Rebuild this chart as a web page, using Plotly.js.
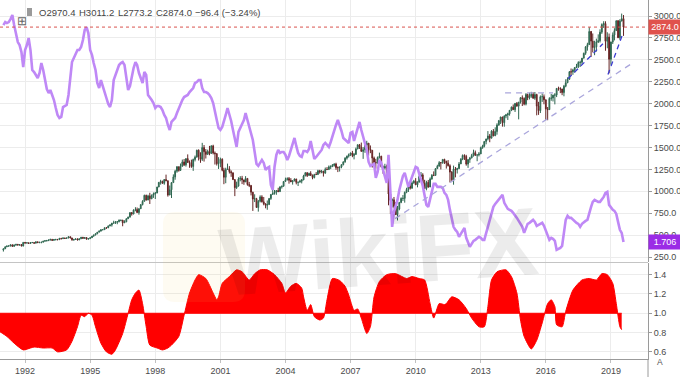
<!DOCTYPE html>
<html><head><meta charset="utf-8">
<script src="https://cdn.plot.ly/plotly-3.0.1.min.js"></script>
<style>html,body{margin:0;padding:0;background:#fff;}#chart{width:680px;height:377px;}</style>
</head><body><div id="chart"></div>
<script>
// ---- data: monthly S&P 500 candles, Jan 1991 .. Aug 2019 ----
const startYear = 1991;
const spxOpen = [
330,344,367,375,375,390,371,388,395,388,392,375,
417,409,413,404,415,415,408,424,414,418,419,431,
436,439,443,452,440,450,451,448,464,459,468,462,
467,482,467,446,451,457,444,458,476,463,472,454,
459,470,487,501,515,533,545,562,562,584,582,605,
616,636,640,646,654,669,671,640,652,687,705,757,
741,786,791,757,801,848,885,954,900,947,915,955,
970,980,1049,1102,1112,1091,1134,1121,957,1017,1099,1164,
1229,1280,1238,1286,1335,1302,1373,1329,1320,1283,1363,1389,
1469,1395,1366,1499,1452,1421,1455,1431,1518,1437,1429,1315,
1320,1366,1240,1160,1250,1256,1224,1211,1134,1041,1060,1140,
1148,1130,1107,1147,1077,1067,990,912,916,815,886,936,
880,856,841,848,917,964,975,990,1008,996,1051,1058,
1112,1131,1145,1126,1107,1121,1141,1102,1104,1115,1130,1174,
1212,1181,1204,1181,1157,1192,1191,1234,1220,1229,1207,1250,
1248,1280,1281,1295,1311,1270,1270,1277,1304,1336,1378,1401,
1418,1438,1407,1421,1482,1531,1503,1455,1474,1527,1549,1481,
1468,1379,1331,1323,1386,1400,1280,1267,1283,1166,969,896,
903,826,735,798,873,919,919,988,1021,1057,1036,1096,
1115,1074,1104,1169,1187,1089,1031,1102,1049,1141,1183,1181,
1258,1286,1327,1326,1364,1345,1321,1292,1219,1131,1253,1247,
1258,1312,1366,1409,1398,1310,1362,1379,1407,1441,1412,1416,
1426,1498,1515,1569,1598,1631,1606,1686,1633,1682,1757,1806,
1848,1783,1860,1872,1884,1924,1960,1931,2003,1972,2018,2068,
2059,1995,2105,2068,2086,2107,2063,2104,1972,1920,2079,2080,
2044,1940,1932,2060,2065,2097,2099,2174,2171,2168,2126,2199,
2239,2279,2364,2363,2384,2412,2423,2470,2472,2519,2575,2648,
2674,2824,2714,2641,2648,2705,2718,2816,2902,2914,2712,2760,
2507,2704,2784,2834,2946,2752,2942,2970.4];
const spxHigh = [
345,370,380,384,391,390,391,396,396,393,398,418,
421,414,413,419,422,416,425,425,423,422,432,441,
442,450,456,452,454,453,451,464,464,470,468,471,
483,482,469,452,458,462,459,477,476,474,474,466,
472,489,504,515,534,553,564,565,587,590,609,622,
639,664,661,656,679,672,673,669,690,711,758,762,
794,818,815,805,852,898,961,961,960,983,963,986,
993,1051,1105,1131,1122,1139,1190,1121,1066,1103,1193,1245,
1287,1282,1317,1362,1368,1373,1421,1352,1361,1373,1408,1474,
1478,1445,1553,1528,1482,1475,1518,1526,1531,1454,1436,1389,
1384,1376,1268,1269,1316,1287,1239,1214,1133,1110,1160,1173,
1176,1131,1173,1147,1107,1070,994,966,925,901,954,955,
935,864,895,924,966,1015,1015,1012,1040,1054,1064,1112,
1156,1159,1163,1150,1123,1146,1141,1109,1132,1140,1188,1217,
1217,1212,1229,1192,1199,1219,1246,1245,1244,1233,1271,1276,
1295,1297,1311,1319,1326,1284,1280,1307,1340,1389,1407,1431,
1441,1461,1438,1499,1534,1540,1556,1504,1538,1576,1545,1523,
1471,1396,1370,1397,1441,1405,1293,1314,1304,1167,1007,919,
935,877,833,878,930,957,997,1040,1080,1101,1114,1130,
1150,1113,1181,1220,1206,1131,1120,1129,1158,1196,1227,1263,
1303,1344,1333,1364,1371,1346,1356,1308,1230,1293,1277,1268,
1334,1378,1420,1422,1416,1364,1392,1427,1475,1465,1419,1448,
1509,1531,1570,1598,1687,1654,1698,1710,1730,1776,1814,1850,
1850,1867,1883,1897,1924,1968,1991,2005,2019,2019,2076,2094,
2072,2120,2114,2126,2135,2130,2133,2113,2021,2094,2117,2105,
2038,1962,2073,2111,2103,2120,2178,2194,2188,2169,2214,2278,
2301,2372,2401,2398,2418,2454,2484,2491,2520,2582,2657,2695,
2873,2789,2801,2718,2742,2791,2848,2916,2941,2940,2815,2800,
2708,2813,2861,2949,2954,2964,3028,3011.2];
const spxLow = [
312,341,363,370,372,368,371,377,380,378,372,372,
404,406,401,401,409,401,406,412,408,406,417,426,
426,431,440,434,437,438,441,446,451,458,455,460,
464,464,436,435,446,441,444,457,460,456,449,452,
459,469,485,497,510,533,544,554,562,572,582,601,
597,633,627,624,645,658,601,640,647,683,702,722,
737,772,756,733,798,839,884,894,899,855,910,925,
912,979,1047,1076,1086,1075,1114,939,957,923,1098,1132,
1212,1224,1234,1281,1288,1282,1328,1268,1268,1233,1341,1387,
1351,1325,1346,1339,1374,1420,1411,1431,1421,1305,1294,1255,
1275,1228,1081,1092,1244,1203,1165,1128,945,1027,1053,1114,
1082,1074,1106,1064,1048,953,776,877,815,768,873,872,
840,806,789,847,902,962,962,960,991,995,1031,1053,
1107,1124,1087,1106,1076,1113,1079,1060,1102,1090,1127,1174,
1163,1180,1175,1137,1147,1189,1191,1201,1205,1168,1202,1245,
1245,1253,1277,1282,1245,1219,1225,1263,1296,1326,1361,1385,
1403,1389,1364,1416,1482,1484,1454,1370,1439,1489,1406,1435,
1271,1317,1257,1315,1374,1272,1200,1249,1107,840,742,815,
805,731,667,783,864,889,870,978,992,1020,1029,1086,
1071,1045,1102,1165,1040,1028,1011,1040,1048,1132,1173,1181,
1257,1295,1249,1314,1312,1259,1283,1101,1119,1075,1159,1203,
1258,1312,1355,1358,1292,1267,1325,1378,1396,1403,1343,1398,
1426,1485,1501,1536,1581,1560,1605,1627,1633,1646,1747,1768,
1738,1737,1834,1814,1863,1915,1931,1905,1965,1821,2001,1973,
1981,1980,2040,2048,2067,2056,2044,1867,1872,1893,2020,1993,
1812,1811,1937,2033,2025,1992,2075,2148,2120,2097,2084,2187,
2234,2271,2322,2329,2353,2405,2407,2418,2447,2520,2557,2605,
2683,2533,2585,2553,2594,2692,2698,2796,2864,2604,2632,2346,
2444,2681,2722,2848,2750,2728,2952,2773.2];
const spxClose = [
344,367,375,375,390,371,388,395,388,392,375,417,
409,413,404,415,415,408,424,414,418,419,431,436,
439,443,452,440,450,451,448,464,459,468,462,467,
482,467,446,451,457,444,458,476,463,472,454,459,
470,487,501,515,533,545,562,562,584,582,605,616,
636,640,646,654,669,671,640,652,687,705,757,741,
786,791,757,801,848,885,954,900,947,915,955,970,
980,1049,1102,1112,1091,1134,1121,957,1017,1099,1164,1229,
1280,1238,1286,1335,1302,1373,1329,1320,1283,1363,1389,1469,
1395,1366,1499,1452,1421,1455,1431,1518,1437,1429,1315,1320,
1366,1240,1160,1250,1256,1224,1211,1134,1041,1060,1140,1148,
1130,1107,1147,1077,1067,990,912,916,815,886,936,880,
856,841,848,917,964,975,990,1008,996,1051,1058,1112,
1131,1145,1126,1107,1121,1141,1102,1104,1115,1130,1174,1212,
1181,1204,1181,1157,1192,1191,1234,1220,1229,1207,1250,1248,
1280,1281,1295,1311,1270,1270,1277,1304,1336,1378,1401,1418,
1438,1407,1421,1482,1531,1503,1455,1474,1527,1549,1481,1468,
1379,1331,1323,1386,1400,1280,1267,1283,1166,969,896,903,
826,735,798,873,919,919,988,1021,1057,1036,1096,1115,
1074,1104,1169,1187,1089,1031,1102,1049,1141,1183,1181,1258,
1286,1327,1326,1364,1345,1321,1292,1219,1131,1253,1247,1258,
1312,1366,1409,1398,1310,1362,1379,1407,1441,1412,1416,1426,
1498,1515,1569,1598,1631,1606,1686,1633,1682,1757,1806,1848,
1783,1860,1872,1884,1924,1960,1931,2003,1972,2018,2068,2059,
1995,2105,2068,2086,2107,2063,2104,1972,1920,2079,2080,2044,
1940,1932,2060,2065,2097,2099,2174,2171,2168,2126,2199,2239,
2279,2364,2363,2384,2412,2423,2470,2472,2519,2575,2648,2674,
2824,2714,2641,2648,2705,2718,2816,2902,2914,2712,2760,2507,
2704,2784,2834,2946,2752,2942,2970.4,2874.0];
// purple overlay (yield-like series), same months
const yieldSeries = [
8.22,8.31,8.28,8.31,8.40,8.52,8.22,7.98,7.71,7.62,7.41,6.96,
7.47,7.62,7.83,7.47,6.87,6.81,6.72,6.63,6.78,7.08,6.87,6.57,
6.30,6.18,6.27,6.12,5.97,5.73,5.52,5.43,5.46,5.76,5.79,5.82,
6.12,6.66,7.11,7.23,7.35,7.47,7.47,7.56,7.77,8.07,8.16,7.98,
7.47,7.32,7.08,6.87,6.48,6.33,6.57,6.42,6.21,6.03,5.85,5.76,
5.97,6.57,6.72,6.93,7.02,7.08,7.11,7.02,6.57,6.27,6.39,6.72,
6.93,7.11,7.02,6.78,6.63,6.48,6.81,6.72,6.12,6.06,5.97,5.88,
5.73,5.79,5.79,5.76,5.67,5.52,5.43,5.22,5.07,5.31,5.37,5.43,
5.58,5.73,5.88,5.97,6.06,6.09,6.12,6.21,6.27,6.33,6.48,6.51,
6.57,6.57,6.33,6.21,6.21,6.18,6.12,6.03,5.88,5.67,5.37,5.13,
5.07,5.16,5.31,5.52,5.73,5.55,5.34,5.07,4.77,4.56,5.01,5.16,
5.25,5.37,5.58,5.37,5.16,4.98,4.77,4.41,4.05,3.99,4.08,4.17,
4.08,3.87,3.93,3.96,3.42,3.27,3.96,4.32,4.47,4.38,4.41,4.41,
4.32,4.17,4.29,4.47,4.68,4.83,4.59,4.38,4.29,4.26,4.44,4.44,
4.41,4.50,4.74,4.47,4.20,4.26,4.32,4.38,4.47,4.62,4.68,4.62,
4.56,4.71,4.89,5.07,5.22,5.37,5.22,5.04,4.83,4.77,4.71,4.68,
4.98,5.01,4.74,4.92,5.16,5.31,5.07,4.86,4.65,4.47,4.11,3.99,
4.02,4.05,3.63,3.81,4.17,4.08,3.87,3.69,3.48,4.32,3.00,2.16,
2.61,2.82,2.97,3.27,3.51,3.69,3.78,3.57,3.36,3.51,3.66,3.81,
3.96,3.93,3.72,3.57,3.39,3.12,2.82,2.76,3.03,3.27,3.45,3.45,
3.36,3.36,3.36,3.33,3.18,3.12,2.97,2.67,2.37,2.16,2.07,2.01,
1.86,1.95,2.07,2.13,1.83,1.68,1.56,1.65,1.74,1.77,1.83,1.86,
1.83,1.77,1.77,1.98,2.19,2.37,2.55,2.76,2.85,2.91,2.97,3.06,
3.12,2.88,2.79,2.70,2.67,2.64,2.58,2.52,2.43,2.34,2.25,2.16,
1.98,2.16,2.25,2.28,2.34,2.37,2.31,2.19,2.22,2.25,2.28,2.19,
2.04,1.95,1.77,1.83,1.80,1.74,1.47,1.50,1.53,1.59,1.98,2.37,
2.49,2.43,2.43,2.37,2.34,2.28,2.25,2.16,2.25,2.31,2.34,2.37,
2.61,2.76,2.91,2.97,2.94,2.91,2.91,2.97,3.06,3.18,3.21,2.82,
2.73,2.67,2.64,2.55,2.31,2.07,1.98,1.706];
// lower-pane oscillator
const oscDates = ['1990-11','1991-03','1991-07','1991-12','1992-04','1992-06','1992-11','1993-04','1993-07','1993-12',
'1994-03','1994-06','1994-08','1994-10','1994-12','1995-02','1995-04','1995-07','1995-10','1996-01',
'1996-03','1996-07','1996-10','1996-12','1997-02','1997-04','1997-06','1997-08','1997-10','1998-02',
'1998-05','1998-08','1998-10','1999-02','1999-05','1999-08','1999-11','2000-01','2000-05','2000-09',
'2000-11','2000-12','2001-02','2001-06','2001-10','2002-01','2002-05','2002-08','2002-11','2003-03',
'2003-07','2003-11','2004-01','2004-04','2004-07','2004-10','2004-11','2005-01','2005-03','2005-05',
'2005-08','2005-10','2005-12','2006-03','2006-07','2006-10','2006-12','2007-03','2007-05','2007-07',
'2007-10','2007-12','2008-02','2008-05','2008-09','2009-02','2009-08','2009-11','2010-03','2010-06',
'2010-09','2010-11','2011-02','2011-05','2011-06','2011-09','2012-01','2012-05','2012-08','2012-12',
'2013-03','2013-05','2013-07','2013-10','2014-03','2014-06','2014-09','2014-11','2015-01','2015-05',
'2015-08','2015-11','2016-02','2016-04','2016-06','2016-07','2016-10','2016-12','2017-04','2017-09',
'2018-01','2018-05','2018-08','2018-11','2019-02','2019-04','2019-06','2019-07'];
const oscValues = [0.81,0.76,0.69,0.62,0.64,0.65,0.64,0.64,0.60,0.62,
0.71,0.86,0.98,0.965,1.00,0.98,0.86,0.69,0.60,0.575,
0.62,0.79,1.00,1.14,1.21,1.24,1.10,0.86,0.67,0.64,
0.62,0.64,0.67,0.76,0.98,1.21,1.345,1.40,1.36,1.21,
1.14,1.17,1.31,1.38,1.45,1.43,1.345,1.41,1.45,1.45,
1.40,1.31,1.21,1.28,1.31,1.26,1.17,1.03,1.09,0.965,
0.93,0.95,1.14,1.36,1.34,1.28,1.19,1.03,1.045,0.95,
0.79,0.86,1.17,1.33,1.40,1.41,1.36,1.38,1.36,1.345,
1.10,0.95,1.10,1.09,1.10,1.17,1.14,1.05,0.95,0.86,
0.86,1.07,1.345,1.43,1.45,1.38,1.21,0.93,0.76,0.63,
0.72,0.90,1.10,1.14,1.07,0.88,0.86,1.02,1.24,1.345,
1.36,1.345,1.41,1.40,1.31,1.10,0.86,0.83];
const oscBaseline = 1.0;
const headerText = ['O2970.4','H3011.2','L2773.2','C2874.0','\u221296.4 (\u22123.24%)'];
const lastPrice = 2874.0, lastYield = 1.706;

// month labels
const months = spxClose.map((_, i) => {
  const y = startYear + Math.floor(i / 12), m = i % 12 + 1;
  return y + '-' + String(m).padStart(2, '0') + '-01';
});

const PW = 648, PH = 359;
const px = v => v / PW, py = v => 1 - v / PH;

const traces = [
  {type:'candlestick', x:months, open:spxOpen, high:spxHigh, low:spxLow, close:spxClose,
   xaxis:'x', yaxis:'y', whiskerwidth:0, hoverinfo:'skip',
   increasing:{line:{color:'#2f6650', width:1}, fillcolor:'#4a9d7a'},
   decreasing:{line:{color:'#642424', width:1}, fillcolor:'#c0433e'}},
  {type:'scatter', mode:'lines', x:months, y:yieldSeries, xaxis:'x', yaxis:'y2',
   line:{color:'#bf88f6', width:2.6}, hoverinfo:'skip'},
  {type:'scatter', mode:'lines', x:[oscDates[0], oscDates[oscDates.length-1]], y:[oscBaseline, oscBaseline],
   xaxis:'x', yaxis:'y3', line:{color:'#ff0000', width:1}, hoverinfo:'skip'},
  {type:'scatter', mode:'lines', x:oscDates, y:oscValues, xaxis:'x', yaxis:'y3',
   line:{color:'#ff0000', width:1, shape:'spline', smoothing:0.6}, fill:'tonexty', fillcolor:'#ff0000', hoverinfo:'skip'}
];

const axisCol = '#9a9a9a', gridCol = '#ececec', tickFont = {size:9, color:'#4a4a4a'};
const layout = {
  width:680, height:377, margin:{l:0, r:32, t:0, b:18},
  paper_bgcolor:'#ffffff', plot_bgcolor:'#ffffff', showlegend:false, hovermode:false,
  font:{family:'Liberation Sans, Arial, sans-serif', size:9, color:'#4a4a4a'},
  xaxis:{type:'date', range:['1990-11-05','2020-09-16'], anchor:'y3', tick0:'1992-01-01', dtick:'M36',
    tickformat:'%Y', showgrid:true, gridcolor:gridCol, showline:true, linecolor:axisCol,
    ticks:'outside', ticklen:3, tickcolor:'#c0c0c0', tickfont:tickFont, rangeslider:{visible:false}, zeroline:false},
  yaxis:{domain:[py(262), 1], range:[193, 3183], side:'right', anchor:'x', tick0:0, dtick:250,
    tickformat:'.1f', showgrid:true, gridcolor:gridCol, showline:true, linecolor:axisCol,
    ticks:'outside', ticklen:3, tickcolor:axisCol, tickfont:tickFont, zeroline:false},
  yaxis2:{overlaying:'y', range:[1.105, 8.973], visible:false},
  yaxis3:{domain:[0, py(263)], range:[0.526, 1.521], side:'right', anchor:'x', tick0:0.6, dtick:0.2,
    tickformat:'.1f', showgrid:true, gridcolor:gridCol, showline:true, linecolor:axisCol,
    ticks:'outside', ticklen:3, tickcolor:axisCol, tickfont:tickFont, zeroline:false},
  shapes:[
    {type:'line', xref:'paper', x0:0, x1:1, yref:'y', y0:lastPrice, y1:lastPrice,
     line:{color:'#d9534f', width:1, dash:'dot'}},
    {type:'line', xref:'x', yref:'y', x0:'2009-01-19', y0:688, x1:'2019-12-20', y1:2459,
     line:{color:'#aaa6dc', width:1.3, dash:'6px,5px'}},
    {type:'line', xref:'x', yref:'y', x0:'2014-02-14', y0:2124, x1:'2016-05-01', y1:2124,
     line:{color:'#aaa6dc', width:1.3, dash:'6px,5px'}},
    {type:'line', xref:'x', yref:'y', x0:'2017-01-10', y0:2286, x1:'2018-08-19', y1:2683,
     line:{color:'#3b3bd0', width:1.3, dash:'5px,4px'}},
    {type:'line', xref:'x', yref:'y', x0:'2018-11-12', y0:2332, x1:'2019-07-23', y1:2804,
     line:{color:'#3b3bd0', width:1.3, dash:'5px,4px'}},
    {type:'line', xref:'paper', yref:'paper', x0:0, x1:1, y0:py(262.5), y1:py(262.5),
     line:{color:'#c4c4c4', width:1}},
    {type:'line', xref:'paper', yref:'paper', x0:1, x1:1, y0:py(377), y1:py(359),
     line:{color:axisCol, width:1}},
    {type:'rect', xref:'paper', yref:'paper', x0:px(27), x1:px(32), y0:py(16), y1:py(8),
     fillcolor:'#9a9a9a', line:{width:0}},
    {type:'path', xref:'paper', yref:'paper', layer:'above', line:{width:0},
     fillcolor:'rgba(245,205,95,0.08)',
     path:'M '+px(175)+' '+py(212)+' L '+px(233)+' '+py(212)+' Q '+px(245)+' '+py(212)+' '+px(245)+' '+py(224)+
          ' L '+px(245)+' '+py(290)+' Q '+px(245)+' '+py(302)+' '+px(233)+' '+py(302)+
          ' L '+px(175)+' '+py(302)+' Q '+px(163)+' '+py(302)+' '+px(163)+' '+py(290)+
          ' L '+px(163)+' '+py(224)+' Q '+px(163)+' '+py(212)+' '+px(175)+' '+py(212)+' Z'}
  ],
  annotations:[
    {xref:'paper', yref:'y', x:1, y:lastPrice, xanchor:'left', yanchor:'middle', showarrow:false,
     text:lastPrice.toFixed(1), bgcolor:'#e0524d', font:{color:'#ffffff', size:9}, borderpad:2, width:28},
    {xref:'paper', yref:'y2', x:1, y:lastYield, xanchor:'left', yanchor:'middle', showarrow:false,
     text:String(lastYield), bgcolor:'#9b2be6', font:{color:'#ffffff', size:9}, borderpad:2, width:28},
    {xref:'paper', yref:'paper', x:px(15), y:py(12), showarrow:false, text:'\u229E',
     font:{size:12, color:'#666'}},
    ...headerText.map((t, i) => ({xref:'paper', yref:'paper', x:px([37,77,116,154,193][i]), y:py(12),
      xanchor:'left', yanchor:'middle', showarrow:false, text:t, font:{size:9.5, color:'#444'}})),
    {xref:'paper', yref:'paper', x:px(665), y:py(369), showarrow:false, text:'A',
     font:{size:8.5, color:'#555'}},
    {xref:'paper', yref:'paper', x:px(378), y:py(252), yanchor:'middle', showarrow:false, text:'<b>WikiFX</b>',
     textangle:-4, font:{size:96, color:'rgba(0,0,0,0.075)', family:'Liberation Sans, Arial, sans-serif'}}
  ]
};

Plotly.newPlot('chart', traces, layout, {displayModeBar:false, staticPlot:true});
</script></body></html>
